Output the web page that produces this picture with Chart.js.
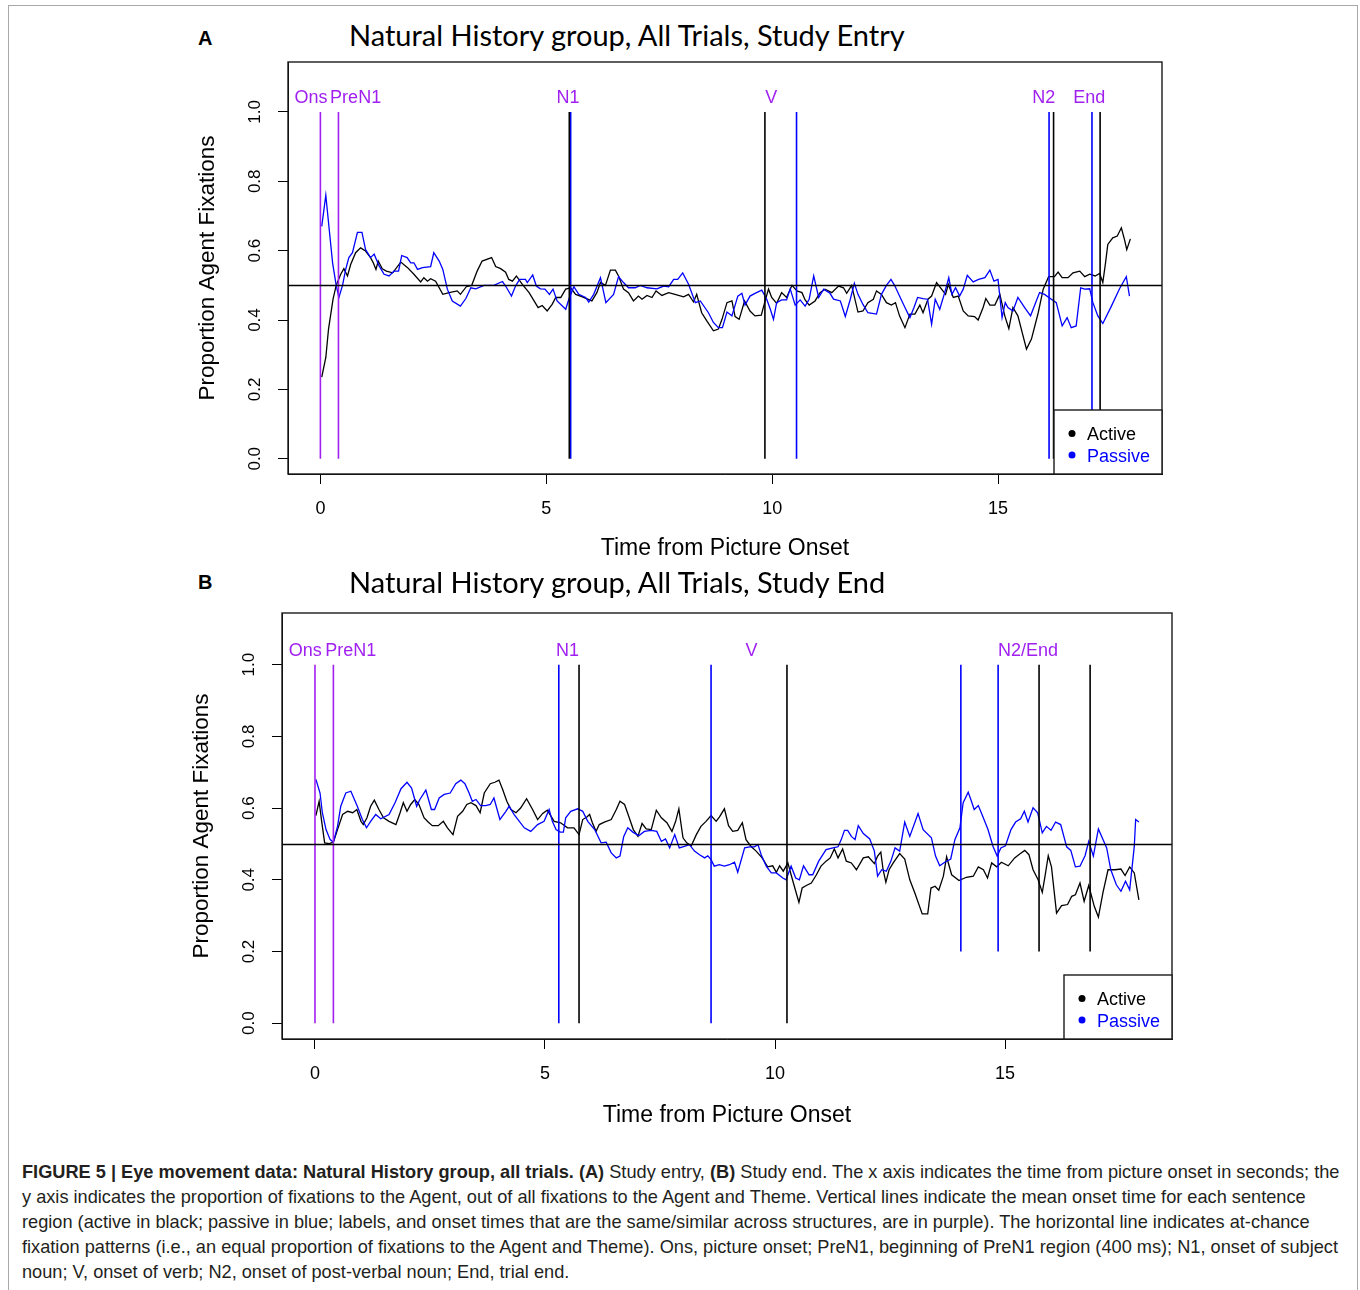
<!DOCTYPE html>
<html>
<head>
<meta charset="utf-8">
<script src="https://cdn.jsdelivr.net/npm/chart.js@4.4.1/dist/chart.umd.min.js"></script>
<style>
  body { margin: 0; background: #fff; width: 1360px; height: 1290px; position: relative; overflow: hidden; font-family: "Liberation Sans", Arial, sans-serif; }
  .frame { position: absolute; left: 8px; top: 5px; width: 1348px; height: 1310px; border: 1px solid #a8a8a8; }
  .letter { position: absolute; left: 198px; font: bold 20px "Liberation Sans", Arial, sans-serif; line-height: 24px; }
  .title { position: absolute; left: 349px; font: 29px Lato, sans-serif; line-height: 32px; white-space: nowrap; color: #000; }
  canvas { position: absolute; left: 0; }
  .caption { position: absolute; left: 22px; top: 1160px; font-size: 18.2px; line-height: 25px; color: #231f20; white-space: nowrap; }
</style>
</head>
<body>
<div class="frame"></div>
<div class="letter" style="top:26px">A</div>
<div class="title" style="top:19px">Natural History group, All Trials, Study Entry</div>
<canvas id="chartA" width="1360" height="570" style="top:0"></canvas>
<div class="letter" style="top:570px">B</div>
<div class="title" style="top:566px">Natural History group, All Trials, Study End</div>
<canvas id="chartB" width="1360" height="590" style="top:555px"></canvas>
<div class="caption">
  <div><b>FIGURE 5 | Eye movement data: Natural History group, all trials. (A)</b> Study entry, <b>(B)</b> Study end. The x axis indicates the time from picture onset in seconds; the</div>
  <div>y axis indicates the proportion of fixations to the Agent, out of all fixations to the Agent and Theme. Vertical lines indicate the mean onset time for each sentence</div>
  <div>region (active in black; passive in blue; labels, and onset times that are the same/similar across structures, are in purple). The horizontal line indicates at-chance</div>
  <div>fixation patterns (i.e., an equal proportion of fixations to the Agent and Theme). Ons, picture onset; PreN1, beginning of PreN1 region (400 ms); N1, onset of subject</div>
  <div>noun; V, onset of verb; N2, onset of post-verbal noun; End, trial end.</div>
</div>
<script>
// axes
const xTicks = [0, 5, 10, 15];
const yTicks = [0, 0.2, 0.4, 0.6, 0.8, 1.0];
const xRange = [-0.717, 18.63];
const yRange = [-0.044, 1.144];
const chance = 0.5;
const labelLevel = 1.039;
const seriesNames = ['Active', 'Passive'];

// Panel A (study entry): time in s, proportion agent fixations
const timeA_active = [0.03,0.12,0.18,0.28,0.35,0.45,0.52,0.6,0.67,0.78,0.89,1.0,1.11,1.17,1.23,1.28,1.37,1.46,1.6,1.78,
  1.93,2.07,2.22,2.29,2.37,2.44,2.55,2.71,2.85,3.03,3.1,3.23,3.35,3.47,3.58,3.79,3.88,3.99,4.1,4.17,
  4.25,4.34,4.47,4.62,4.73,4.82,4.91,5.02,5.13,5.21,5.32,5.43,5.54,5.65,5.8,
  6.01,6.12,6.2,6.31,6.42,6.53,6.6,6.71,6.82,6.93,7.04,7.12,7.23,7.34,7.43,7.56,7.71,7.85,8.04,8.15,
  8.26,8.33,8.44,8.55,8.7,8.81,8.89,9.0,9.11,9.18,9.27,9.39,9.51,9.62,9.76,9.85,9.92,9.99,10.1,10.21,
  10.32,10.44,10.55,10.66,10.73,10.82,10.95,11.06,11.17,11.32,11.47,11.58,11.65,11.76,
  11.9,12.01,12.12,12.24,12.31,12.42,12.53,12.64,12.73,12.82,12.94,13.05,13.16,13.27,13.34,13.45,13.53,13.64,13.75,13.84,
  13.9,14.01,14.12,14.23,14.34,14.48,14.56,14.67,14.73,14.82,14.93,15.04,15.15,15.24,15.33,15.44,15.63,15.74,15.89,16.0,
  16.12,16.25,16.33,16.42,16.55,16.66,16.81,16.92,17.03,17.15,17.25,17.32,17.38,17.43,17.54,17.64,17.73,17.8,17.85,17.93];
const propA_active = [0.235,0.292,0.374,0.46,0.5,0.532,0.548,0.527,0.56,0.594,0.608,0.599,0.58,0.565,0.546,0.57,0.548,0.541,0.536,0.567,
  0.551,0.532,0.51,0.522,0.512,0.519,0.512,0.474,0.479,0.484,0.474,0.496,0.5,0.541,0.57,0.58,0.554,0.548,0.538,0.517,
  0.512,0.527,0.503,0.479,0.455,0.436,0.442,0.426,0.445,0.465,0.465,0.489,0.493,0.474,0.467,
  0.455,0.479,0.508,0.5,0.544,0.544,0.527,0.489,0.479,0.455,0.469,0.46,0.471,0.465,0.484,0.471,0.479,0.474,0.467,0.474,
  0.452,0.474,0.421,0.398,0.369,0.374,0.402,0.45,0.455,0.41,0.402,0.455,0.426,0.412,0.414,0.458,0.489,0.465,0.448,0.479,
  0.465,0.5,0.484,0.479,0.458,0.443,0.455,0.479,0.489,0.479,0.498,0.493,0.477,0.5,
  0.423,0.426,0.45,0.46,0.484,0.474,0.45,0.443,0.45,0.412,0.378,0.417,0.417,0.443,0.421,0.46,0.469,0.508,0.489,0.474,
  0.503,0.465,0.469,0.426,0.412,0.41,0.4,0.436,0.462,0.443,0.443,0.474,0.412,0.375,0.436,0.412,0.316,0.345,0.421,0.489,
  0.525,0.525,0.538,0.522,0.522,0.536,0.541,0.525,0.532,0.527,0.534,0.508,0.565,0.618,0.637,0.642,0.666,0.632,0.603,0.634];
const timeA_passive = [0.03,0.12,0.15,0.27,0.35,0.41,0.49,0.56,0.63,0.71,0.82,0.92,1.0,1.11,1.19,1.3,1.41,1.52,1.63,1.73,
  1.8,1.92,2.0,2.07,2.15,2.26,2.44,2.51,2.63,2.71,2.81,2.92,3.1,3.22,3.33,3.44,3.62,3.84,4.03,4.1,
  4.23,4.32,4.41,4.54,4.58,4.7,4.78,4.87,4.97,5.07,5.15,5.24,5.43,5.5,5.61,5.72,5.87,
  5.94,6.05,6.2,6.32,6.49,6.6,6.71,6.82,6.97,7.08,7.23,7.45,7.6,7.71,7.82,7.91,8.02,8.15,8.3,8.41,
  8.59,8.7,8.81,8.9,9.0,9.11,9.24,9.33,9.4,9.51,9.62,9.77,9.88,9.96,10.03,10.1,10.21,10.32,10.4,10.51,
  10.62,10.73,10.82,10.92,11.03,11.14,11.28,11.36,11.51,11.62,11.73,11.82,
  11.9,12.01,12.12,12.31,12.42,12.53,12.63,12.71,12.82,12.94,13.05,13.14,13.22,13.34,13.44,13.53,13.61,13.71,13.82,13.91,
  13.98,14.06,14.15,14.23,14.32,14.45,14.57,14.71,14.82,14.91,15.0,15.09,15.16,15.22,15.33,15.44,15.59,15.72,15.92,16.03,
  16.18,16.29,16.42,16.53,16.62,16.73,16.83,16.92,17.03,17.1,17.21,17.32,17.51,17.69,17.84,17.91];
const propA_passive = [0.67,0.76,0.72,0.565,0.5,0.465,0.5,0.546,0.58,0.594,0.653,0.653,0.603,0.58,0.59,0.556,0.532,0.527,0.541,0.541,
  0.586,0.58,0.565,0.565,0.546,0.551,0.554,0.594,0.57,0.546,0.489,0.455,0.44,0.462,0.493,0.49,0.5,0.5,0.511,0.498,
  0.469,0.498,0.517,0.517,0.508,0.53,0.498,0.49,0.489,0.474,0.489,0.455,0.431,0.46,0.496,0.474,0.465,
  0.452,0.474,0.522,0.45,0.474,0.525,0.508,0.493,0.493,0.5,0.493,0.49,0.498,0.496,0.517,0.517,0.536,0.503,0.45,0.455,
  0.421,0.393,0.378,0.378,0.423,0.412,0.469,0.477,0.443,0.469,0.477,0.486,0.46,0.431,0.402,0.45,0.458,0.458,0.49,0.443,
  0.458,0.44,0.46,0.527,0.465,0.489,0.477,0.46,0.455,0.41,0.46,0.506,
  0.474,0.445,0.421,0.417,0.474,0.5,0.517,0.5,0.469,0.436,0.407,0.436,0.465,0.462,0.46,0.388,0.46,0.431,0.479,0.522,
  0.474,0.493,0.469,0.489,0.529,0.51,0.517,0.522,0.544,0.512,0.517,0.407,0.45,0.436,0.426,0.465,0.436,0.412,0.479,0.474,
  0.46,0.45,0.383,0.407,0.378,0.383,0.493,0.489,0.49,0.45,0.412,0.39,0.44,0.49,0.525,0.469];
// region onsets (s); lines run from `from` up to 1.0
const onsetA_shared = [0, 0.4];
const onsetA_active = [5.51, 9.84, 16.23, 17.26];
const onsetA_passive = [5.54, 10.54, 16.13, 17.08];
const fromA_active = [0, 0, 0, 0];
const fromA_passive = [0, 0, 0, 0];
const regionA = ['Ons', 'PreN1', 'N1', 'V', 'N2', 'End'];
const regionA_at = [-0.21, 0.78, 5.48, 9.98, 16.01, 17.02];

// Panel B (study end)
const timeB_active = [0.02,0.09,0.14,0.21,0.31,0.4,0.49,0.6,0.71,0.82,0.91,1.0,1.05,1.13,1.21,1.29,1.39,1.49,1.61,1.76,
  1.85,1.92,2.0,2.08,2.17,2.26,2.37,2.46,2.55,2.68,2.79,2.88,3.0,3.1,3.21,3.3,3.39,3.5,3.59,3.68,
  3.81,3.91,4.0,4.08,4.17,4.26,4.37,4.47,4.6,4.73,4.84,4.95,5.05,5.2,5.34,5.49,5.63,5.74,
  5.82,5.91,5.97,6.03,6.11,6.18,6.29,6.44,6.55,6.63,6.73,6.82,6.92,7.02,7.11,7.2,7.31,7.42,7.53,7.65,
  7.76,7.84,7.91,8.0,8.08,8.18,8.29,8.39,8.5,8.61,8.72,8.79,8.9,8.99,9.08,9.19,9.29,9.37,9.48,9.59,
  9.72,9.84,9.95,10.03,10.1,10.18,10.28,10.35,10.42,10.52,10.59,10.68,10.79,10.9,11.0,11.11,11.2,11.29,11.37,11.47,11.55,
  11.66,11.77,11.92,12.03,12.16,12.23,12.3,12.35,12.41,12.48,12.57,12.71,12.82,12.93,13.04,13.2,13.32,13.39,13.48,13.56,
  13.66,13.73,13.84,14.0,14.16,14.31,14.42,14.53,14.62,14.71,14.82,14.92,15.07,15.21,15.32,15.43,15.52,15.61,15.72,15.81,
  15.87,15.94,16.01,16.12,16.23,16.36,16.45,16.53,16.63,16.72,16.82,16.94,17.03,17.13,17.24,17.39,17.52,17.61,17.71,17.81,17.91];
const propB_active = [0.579,0.619,0.568,0.503,0.501,0.505,0.54,0.582,0.591,0.587,0.596,0.563,0.554,0.573,0.605,0.622,0.596,0.573,0.563,0.554,
  0.587,0.615,0.591,0.61,0.624,0.61,0.573,0.561,0.551,0.551,0.563,0.545,0.526,0.577,0.591,0.61,0.615,0.607,0.587,0.642,
  0.668,0.672,0.678,0.652,0.619,0.596,0.587,0.6,0.626,0.596,0.568,0.585,0.594,0.563,0.559,0.545,0.545,0.526,
  0.568,0.575,0.582,0.559,0.535,0.554,0.561,0.568,0.596,0.619,0.61,0.577,0.54,0.521,0.557,0.542,0.54,0.594,0.573,0.559,
  0.535,0.563,0.598,0.517,0.503,0.495,0.526,0.549,0.563,0.579,0.563,0.575,0.598,0.551,0.535,0.538,0.559,0.512,0.493,0.48,
  0.461,0.436,0.439,0.421,0.439,0.424,0.447,0.414,0.382,0.337,0.377,0.384,0.391,0.414,0.438,0.452,0.461,0.486,0.461,0.486,0.452,
  0.447,0.428,0.461,0.464,0.445,0.466,0.477,0.428,0.393,0.428,0.447,0.473,0.458,0.4,0.363,0.305,0.305,0.377,0.382,0.371,
  0.41,0.464,0.414,0.398,0.407,0.41,0.436,0.428,0.405,0.447,0.436,0.449,0.439,0.461,0.472,0.482,0.47,0.428,0.4,0.365,
  0.41,0.467,0.436,0.307,0.328,0.331,0.354,0.358,0.391,0.34,0.384,0.326,0.296,0.365,0.428,0.428,0.43,0.412,0.436,0.419,0.344];
const timeB_passive = [0.02,0.11,0.16,0.24,0.33,0.4,0.49,0.56,0.67,0.78,0.92,1.03,1.12,1.21,1.32,1.43,1.61,1.74,1.87,2.0,
  2.1,2.16,2.21,2.28,2.41,2.53,2.6,2.7,2.81,2.94,3.06,3.17,3.26,3.35,3.42,3.5,3.6,3.71,3.81,3.89,
  4.02,4.15,4.22,4.33,4.55,4.69,4.84,4.98,5.09,5.16,5.24,5.33,5.4,5.45,5.56,5.71,
  5.82,5.93,6.08,6.22,6.33,6.44,6.55,6.63,6.71,6.8,6.91,7.04,7.16,7.31,7.43,7.53,7.62,7.71,7.82,7.92,
  8.03,8.14,8.25,8.36,8.47,8.54,8.61,8.68,8.79,8.9,9.01,9.12,9.19,9.34,9.45,9.55,9.63,9.7,9.81,9.92,
  10.03,10.17,10.24,10.35,10.45,10.53,10.62,10.74,10.82,10.95,11.11,11.26,11.37,11.44,11.51,11.58,
  11.66,11.74,11.81,11.92,12.06,12.16,12.23,12.32,12.42,12.52,12.61,12.71,12.82,12.93,13.11,13.22,13.4,13.49,13.58,13.69,
  13.82,13.91,14.02,14.09,14.2,14.27,14.33,14.42,14.5,14.63,14.74,14.83,14.91,15.01,15.13,15.23,15.34,15.42,15.5,15.61,
  15.71,15.81,15.9,16.0,16.1,16.21,16.34,16.43,16.53,16.63,16.74,16.82,16.92,17.03,17.21,17.3,17.42,17.52,17.62,17.71,
  17.81,17.84,17.91];
const propB_passive = [0.68,0.642,0.587,0.54,0.512,0.505,0.549,0.605,0.642,0.647,0.605,0.568,0.545,0.563,0.582,0.57,0.582,0.615,0.654,0.672,
  0.656,0.628,0.605,0.624,0.65,0.596,0.596,0.628,0.638,0.642,0.668,0.678,0.668,0.642,0.619,0.624,0.607,0.607,0.61,0.628,
  0.568,0.591,0.605,0.582,0.545,0.535,0.554,0.563,0.596,0.563,0.54,0.533,0.533,0.573,0.591,0.598,
  0.591,0.563,0.54,0.503,0.505,0.475,0.461,0.466,0.52,0.545,0.533,0.523,0.535,0.538,0.535,0.507,0.514,0.489,0.526,0.489,
  0.493,0.498,0.48,0.47,0.461,0.467,0.456,0.438,0.442,0.438,0.442,0.449,0.421,0.489,0.492,0.492,0.498,0.47,0.438,0.419,
  0.419,0.405,0.4,0.438,0.405,0.4,0.439,0.414,0.414,0.452,0.484,0.489,0.492,0.512,0.538,0.538,
  0.521,0.512,0.551,0.529,0.514,0.48,0.41,0.428,0.424,0.452,0.489,0.48,0.561,0.521,0.585,0.54,0.517,0.466,0.439,0.449,
  0.458,0.512,0.545,0.615,0.644,0.619,0.596,0.607,0.582,0.54,0.493,0.466,0.489,0.495,0.54,0.561,0.57,0.591,0.561,0.601,
  0.587,0.531,0.549,0.538,0.561,0.554,0.492,0.482,0.436,0.438,0.467,0.507,0.466,0.542,0.489,0.428,0.386,0.368,0.396,0.372,
  0.493,0.568,0.561];
const onsetB_shared = [0, 0.4];
const onsetB_active = [5.74, 10.26, 15.74, 16.85];
const onsetB_passive = [5.30, 8.61, 14.04, 14.85];
const fromB_active = [0, 0, 0.2, 0.2];
const fromB_passive = [0, 0, 0.2, 0.2];
const regionB = ['Ons', 'PreN1', 'N1', 'V', 'N2/End'];
const regionB_at = [-0.21, 0.78, 5.49, 9.49, 15.5];

const BLACK = '#000000', BLUE = '#0000ff', PURPLE = '#a020f0';
const FONT = '"Liberation Sans", Arial, sans-serif';

const pts = (t, p) => t.map((v, i) => ({ x: v, y: p[i] }));

function onsetLines(onsets, from, color) {
  return onsets.map((t, i) => ({
    data: [{ x: t, y: from[i] }, { x: t, y: 1 }],
    borderColor: color, borderWidth: 1.6, pointRadius: 0, order: 0
  }));
}

// R-like extras: chance line, closed box, rotated y labels, region labels, legend
const panelDecor = {
  id: 'panelDecor',
  afterDatasetsDraw(chart, args, opts) {
    const { ctx, chartArea: a, scales: { x, y } } = chart;
    ctx.save();
    const yc = Math.round(y.getPixelForValue(chance)) + 0.5;
    ctx.strokeStyle = BLACK;
    ctx.lineWidth = 1.3;
    ctx.beginPath(); ctx.moveTo(a.left, yc); ctx.lineTo(a.right, yc); ctx.stroke();

    ctx.lineWidth = 1.4;
    ctx.strokeStyle = '#1a1a1a';
    ctx.strokeRect(a.left, a.top, a.right - a.left, a.bottom - a.top);

    ctx.fillStyle = BLACK;
    ctx.font = '17px ' + FONT;
    ctx.textAlign = 'center';
    ctx.textBaseline = 'middle';
    yTicks.forEach(v => {
      ctx.save();
      ctx.translate(a.left - 33, y.getPixelForValue(v));
      ctx.rotate(-Math.PI / 2);
      ctx.fillText(v.toFixed(1), 0, 0);
      ctx.restore();
    });

    ctx.fillStyle = PURPLE;
    ctx.font = '18px ' + FONT;
    opts.regions.forEach((s, i) => {
      ctx.fillText(s, x.getPixelForValue(opts.regionAt[i]), y.getPixelForValue(labelLevel));
    });

    // legend box in the bottom-right corner
    const lw = 108, lh = 64;
    const lx = a.right - lw, ly = a.bottom - lh;
    ctx.fillStyle = '#fff';
    ctx.fillRect(lx, ly, lw, lh);
    ctx.strokeRect(lx, ly, lw, lh);
    ctx.textAlign = 'left';
    ctx.font = '18px ' + FONT;
    [BLACK, BLUE].forEach((c, i) => {
      const cy = ly + 25.5 + i * 21.5;
      ctx.fillStyle = c;
      ctx.beginPath(); ctx.arc(lx + 18, cy - 2, 3.5, 0, Math.PI * 2); ctx.fill();
      ctx.fillText(seriesNames[i], lx + 33, cy);
    });
    ctx.restore();
  }
};

function makePanel(id, p) {
  const axisGrid = { drawOnChartArea: false, drawTicks: true, tickLength: 10, color: BLACK, lineWidth: 1 };
  return new Chart(document.getElementById(id), {
    type: 'line',
    data: {
      datasets: [
        { label: seriesNames[0], data: pts(p.tActive, p.pActive), borderColor: BLACK, borderWidth: 1.3, pointRadius: 0, order: 2 },
        { label: seriesNames[1], data: pts(p.tPassive, p.pPassive), borderColor: BLUE, borderWidth: 1.3, pointRadius: 0, order: 1 },
        ...onsetLines(p.shared, [0, 0], PURPLE),
        ...onsetLines(p.onActive, p.fromActive, BLACK),
        ...onsetLines(p.onPassive, p.fromPassive, BLUE)
      ]
    },
    options: {
      responsive: false,
      animation: false,
      events: [],
      layout: { padding: p.padding },
      plugins: {
        legend: { display: false },
        tooltip: { enabled: false },
        panelDecor: { regions: p.regions, regionAt: p.regionAt }
      },
      scales: {
        x: {
          type: 'linear', min: xRange[0], max: xRange[1],
          afterBuildTicks: s => { s.ticks = xTicks.map(v => ({ value: v })); },
          afterFit: s => { s.height = p.xAxisH; },
          grid: axisGrid,
          border: { display: true, color: BLACK, width: 1 },
          ticks: { color: BLACK, font: { family: FONT, size: 18 }, padding: p.xTickPad, maxRotation: 0 },
          title: { display: true, text: 'Time from Picture Onset', color: BLACK, font: { family: FONT, size: 23 }, padding: { top: 0, bottom: p.xTitlePad } }
        },
        y: {
          type: 'linear', min: yRange[0], max: yRange[1],
          afterBuildTicks: s => { s.ticks = yTicks.map(v => ({ value: v })); },
          afterFit: s => { s.width = 120; },
          grid: axisGrid,
          border: { display: true, color: BLACK, width: 1 },
          ticks: { display: false },
          title: { display: true, text: 'Proportion Agent Fixations', color: BLACK, font: { family: FONT, size: 22.5 }, padding: { top: 26.5, bottom: 0 } }
        }
      }
    },
    plugins: [panelDecor]
  });
}

makePanel('chartA', {
  tActive: timeA_active, pActive: propA_active, tPassive: timeA_passive, pPassive: propA_passive,
  shared: onsetA_shared, onActive: onsetA_active, onPassive: onsetA_passive,
  fromActive: fromA_active, fromPassive: fromA_passive,
  regions: regionA, regionAt: regionA_at,
  padding: { left: 168, right: 198, top: 62, bottom: 0 }, xAxisH: 96, xTitlePad: 7.2, xTickPad: 14
});

makePanel('chartB', {
  tActive: timeB_active, pActive: propB_active, tPassive: timeB_passive, pPassive: propB_passive,
  shared: onsetB_shared, onActive: onsetB_active, onPassive: onsetB_passive,
  fromActive: fromB_active, fromPassive: fromB_passive,
  regions: regionB, regionAt: regionB_at,
  padding: { left: 162, right: 188, top: 58, bottom: 0 }, xAxisH: 106, xTitlePad: 15.4, xTickPad: 14.5
});
</script>
</body>
</html>
